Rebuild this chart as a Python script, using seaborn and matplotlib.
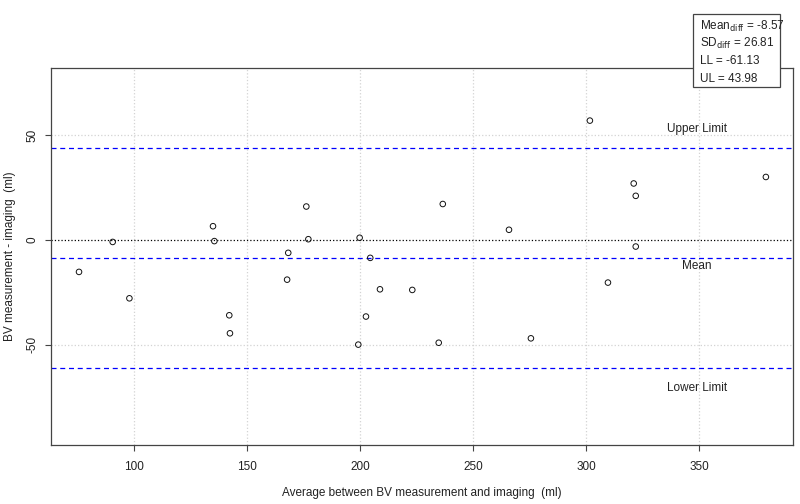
import numpy as np
import pandas as pd
import matplotlib
matplotlib.use('Agg')
import matplotlib.pyplot as plt
from matplotlib.patches import Rectangle
import seaborn as sns

avg_ml = [75.5, 90.4, 97.8, 134.8, 135.4, 142.0, 142.3, 167.6, 168.1, 176.1,
          177.0, 199.7, 199.1, 202.5, 204.4, 208.7, 223.0, 234.7, 236.5, 265.8,
          275.5, 301.6, 309.6, 321.0, 321.9, 321.9, 379.5]
diff_ml = [-15.3, -1.0, -27.9, 6.5, -0.6, -36.0, -44.6, -19.0, -6.2, 15.9,
           0.3, 1.0, -50.0, -36.6, -8.6, -23.6, -23.9, -49.1, 17.1, 4.8,
           -47.0, 56.9, -20.4, 26.9, 21.0, -3.2, 30.0]

mean_diff = -8.57
sd_diff = 26.81
lower_lim = -61.13
upper_lim = 43.98

x_ticks = [100, 150, 200, 250, 300, 350]
y_ticks = [-50, 0, 50]

df = pd.DataFrame({'avg': avg_ml, 'diff': diff_ml})

sns.set_theme(style='white')
plt.rcParams['font.family'] = ['Liberation Sans', 'DejaVu Sans']

W, H = 800, 504
fig = plt.figure(figsize=(W / 100, H / 100), dpi=100)
ax = fig.add_axes([51 / W, 1 - 445 / H, (793 - 51) / W, (445 - 68) / H])

for v in x_ticks:
    ax.axvline(v, color='#d3d3d3', ls=':', lw=0.9, zorder=0)
for v in y_ticks:
    if v != 0:
        ax.axhline(v, color='#d3d3d3', ls=':', lw=0.9, zorder=0)

ax.axhline(0, color='black', ls=':', lw=0.9, zorder=1)
for v in [mean_diff, upper_lim, lower_lim]:
    ax.axhline(v, color='blue', ls=(0, (4, 3)), lw=0.9, zorder=1)

sns.scatterplot(data=df, x='avg', y='diff', ax=ax, marker='o', s=16,
                facecolor='none', edgecolor='#111111', linewidth=0.7, zorder=3)

fs = 8.5
ax.text(349, upper_lim + 9, 'Upper Limit', ha='center', va='center', fontsize=fs, color='#222222')
ax.text(349, mean_diff - 3.8, 'Mean', ha='center', va='center', fontsize=fs, color='#222222')
ax.text(349, lower_lim - 9.8, 'Lower Limit', ha='center', va='center', fontsize=fs, color='#222222')

ax.set_xlim(63.1, 391.5)
ax.set_ylim(-97.9, 82)
ax.set_xticks(x_ticks)
ax.set_yticks(y_ticks)
ax.set_yticklabels([str(v) for v in y_ticks], rotation=90, va='center')
ax.tick_params(axis='both', which='both', direction='out', length=4.3, width=0.8,
               color='#444444', labelsize=fs, labelcolor='#222222',
               bottom=True, left=True)
ax.tick_params(axis='x', pad=7)
ax.tick_params(axis='y', pad=5)
for s in ax.spines.values():
    s.set_color('#444444')
    s.set_linewidth(0.9)

ax.set_xlabel('Average between BV measurement and imaging  (ml)', fontsize=fs,
              color='#222222', labelpad=10)
ax.set_ylabel('BV measurement - imaging  (ml)', fontsize=fs, color='#222222', labelpad=7)

# stats box
fig.patches.append(Rectangle((693 / W, 1 - 87 / H), 87 / W, 73 / H,
                             transform=fig.transFigure, facecolor='white',
                             edgecolor='#444444', lw=0.9, zorder=5))
stats_lines = ['Mean$_{\\mathrm{diff}}$ = %.2f' % mean_diff,
               'SD$_{\\mathrm{diff}}$ = %.2f' % sd_diff,
               'LL = %.2f' % lower_lim,
               'UL = %.2f' % upper_lim]
for i, line in enumerate(stats_lines):
    fig.text(700 / W, 1 - (26 + 17.7 * i) / H, line, ha='left', va='center',
             fontsize=fs, color='#222222', zorder=6)

fig.savefig('out.png', dpi=100)
